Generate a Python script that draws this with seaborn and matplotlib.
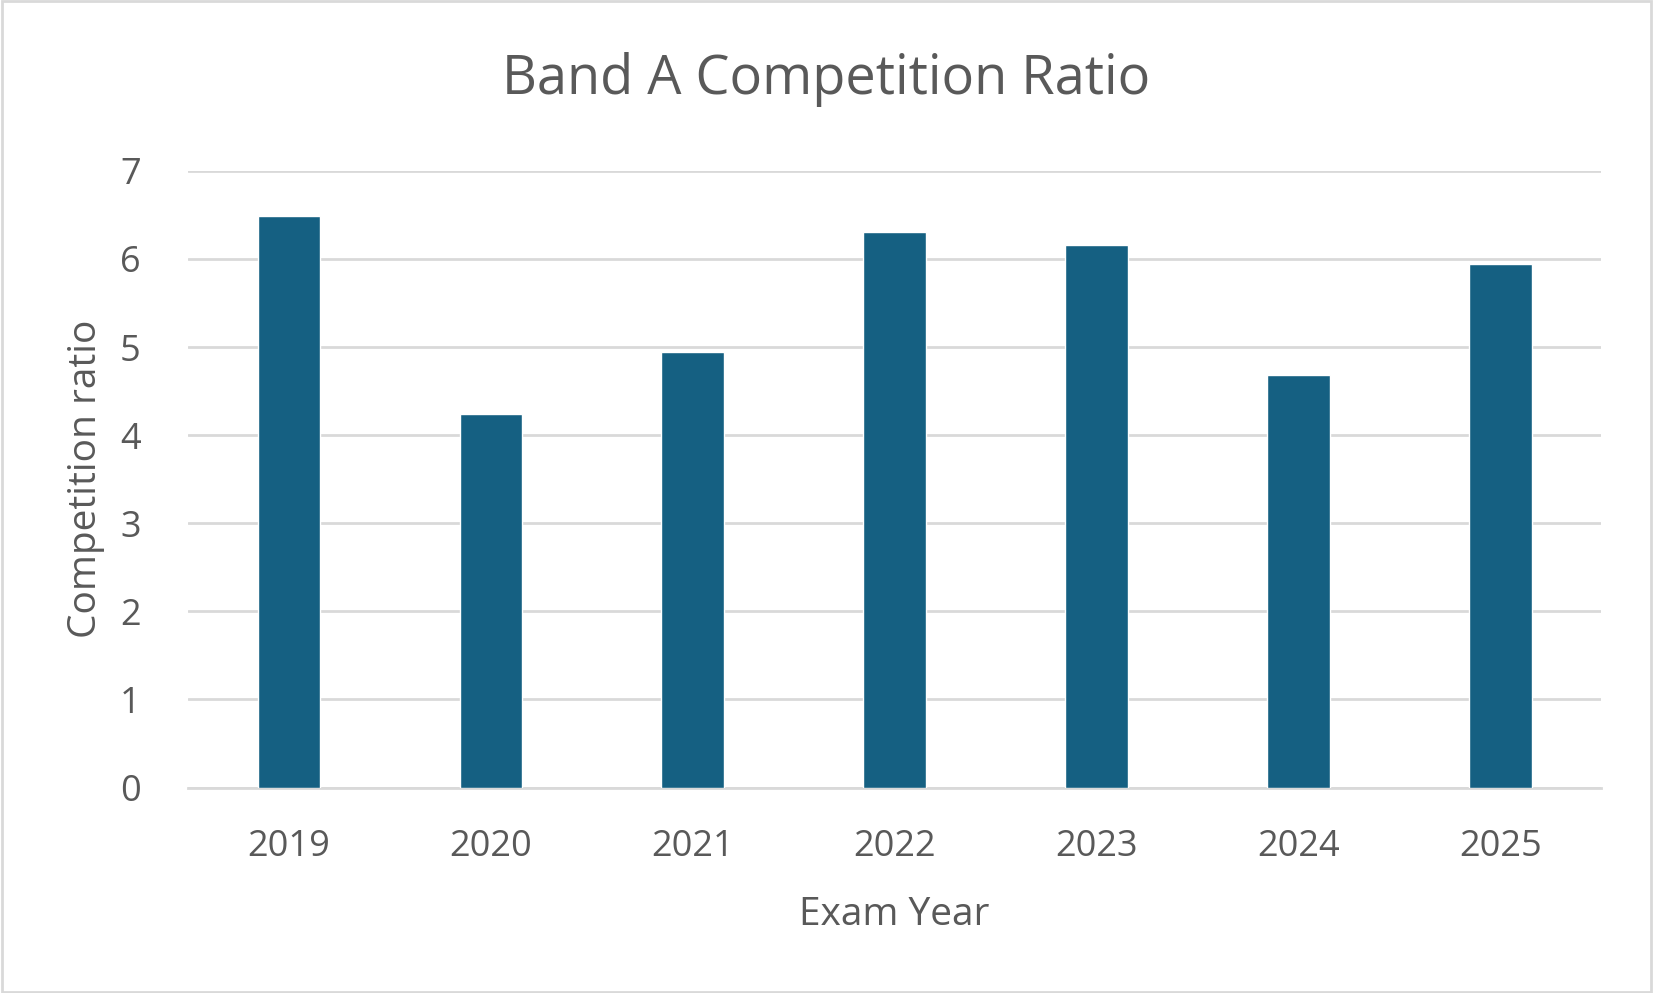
import numpy as np
import pandas as pd
import seaborn as sns
import matplotlib.pyplot as plt
from matplotlib.patches import Rectangle

years = ['2019', '2020', '2021', '2022', '2023', '2024', '2025']
ratios = [6.49, 4.24, 4.94, 6.31, 6.16, 4.68, 5.94]

df = pd.DataFrame({'Exam Year': years, 'Competition ratio': ratios})

sns.set_theme(style='white')
plt.rcParams['font.family'] = ['Open Sans', 'DejaVu Sans']
text_col = '#595959'

fig = plt.figure(figsize=(16.53, 9.93), dpi=100)
ax = fig.add_axes([0.1137, 0.2069, 0.855, 0.621])

sns.barplot(data=df, x='Exam Year', y='Competition ratio', color='#156082',
            width=0.31, saturation=1, ax=ax, zorder=3)

ax.set_ylim(0, 7)
ax.set_yticks(range(0, 8))
ax.set_xlim(-0.5, len(years) - 0.5)
ax.yaxis.grid(True, color='#D9D9D9', linewidth=2, zorder=0)
ax.xaxis.grid(False)
for s in ['top', 'right', 'left']:
    ax.spines[s].set_visible(False)
ax.spines['bottom'].set_color('#D9D9D9')
ax.spines['bottom'].set_linewidth(2)
ax.tick_params(axis='both', length=0, labelsize=26, colors=text_col)
ax.tick_params(axis='y', pad=34)
ax.tick_params(axis='x', pad=30)

ax.set_xlabel('Exam Year', fontsize=28, color=text_col, labelpad=22)
ax.set_ylabel('Competition ratio', fontsize=28, color=text_col, labelpad=11)
fig.suptitle('Band A Competition Ratio', fontsize=39, color=text_col, y=0.948)

fig.patches.append(Rectangle((0.001, 0.001), 0.998, 0.998, transform=fig.transFigure,
                             fill=False, edgecolor='#D9D9D9', linewidth=2))

plt.savefig('out.png', dpi=100)
